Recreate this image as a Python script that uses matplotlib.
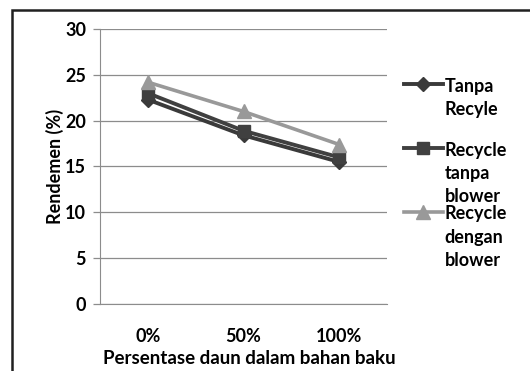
import matplotlib
matplotlib.use("Agg")
import matplotlib.pyplot as plt
from matplotlib.patches import Rectangle

categories = ["0%", "50%", "100%"]
series_names = ["Tanpa\nRecyle\n", "Recycle\ntanpa\nblower", "Recycle\ndengan\nblower"]
tanpa_recycle = [22.3, 18.4, 15.5]
recycle_tanpa_blower = [23.0, 18.9, 16.0]
recycle_dengan_blower = [24.2, 21.0, 17.4]
y_ticks = [0, 5, 10, 15, 20, 25, 30]

plt.rcParams['font.family'] = ['Lato', 'DejaVu Sans']
plt.rcParams['font.weight'] = 'bold'

fig = plt.figure(figsize=(5.3, 3.71), dpi=100)
W, H = 530, 371
ax = fig.add_axes([100 / W, 1 - 304 / H, 287 / W, 275 / H])

x = list(range(len(categories)))
styles = [
    dict(color="#3a3a3a", marker="D", markersize=7.5, lw=2.8),
    dict(color="#404040", marker="s", markersize=9, lw=2.8),
    dict(color="#999999", marker="^", markersize=10, lw=2.6),
]
for vals, name, st in zip([tanpa_recycle, recycle_tanpa_blower, recycle_dengan_blower], series_names, styles):
    ax.plot(x, vals, label=name, **st)

ax.set_xlim(-0.5, len(categories) - 0.5)
ax.set_ylim(0, 30)
ax.set_yticks(y_ticks)
ax.set_xticks(x)
ax.set_xticklabels(categories)
ax.yaxis.grid(True, color="#8c8c8c", lw=0.9)
ax.set_axisbelow(True)
for s in ["top", "right"]:
    ax.spines[s].set_visible(False)
ax.spines["left"].set_color("#8c8c8c")
ax.spines["bottom"].set_color("#8c8c8c")
ax.tick_params(axis="y", direction="out", length=5, width=0.9, color="#8c8c8c", pad=5.0, labelsize=13)
ax.tick_params(axis="x", length=0, pad=17, labelsize=13)

ax.set_ylabel("Rendemen (%)", fontsize=13, fontweight="bold")
ax.yaxis.set_label_coords(-0.157, 0.5)
ax.yaxis.label.set_va("center")
ax.set_xlabel("Persentase daun dalam bahan baku", fontsize=13.5, fontweight="bold")
ax.xaxis.set_label_coords(0.52, -0.2)
ax.xaxis.label.set_va("center")

leg = ax.legend(loc="upper left", bbox_to_anchor=(404 / W, 1 - 78 / H),
                bbox_transform=fig.transFigure, frameon=False, fontsize=13,
                handlelength=2.15, handletextpad=0.1, borderpad=0, borderaxespad=0,
                labelspacing=0.0)
for t in leg.get_texts():
    t.set_linespacing(1.45)
for col in leg._legend_handle_box.get_children():
    for item in col.get_children():
        item.align = "top"

fig.add_artist(Rectangle((11.5 / W, -0.1), 2, 1.1 - 10 / H, transform=fig.transFigure,
                         fill=False, lw=1.8, edgecolor="#202020", clip_on=False))

fig.savefig("out.png", dpi=100)
